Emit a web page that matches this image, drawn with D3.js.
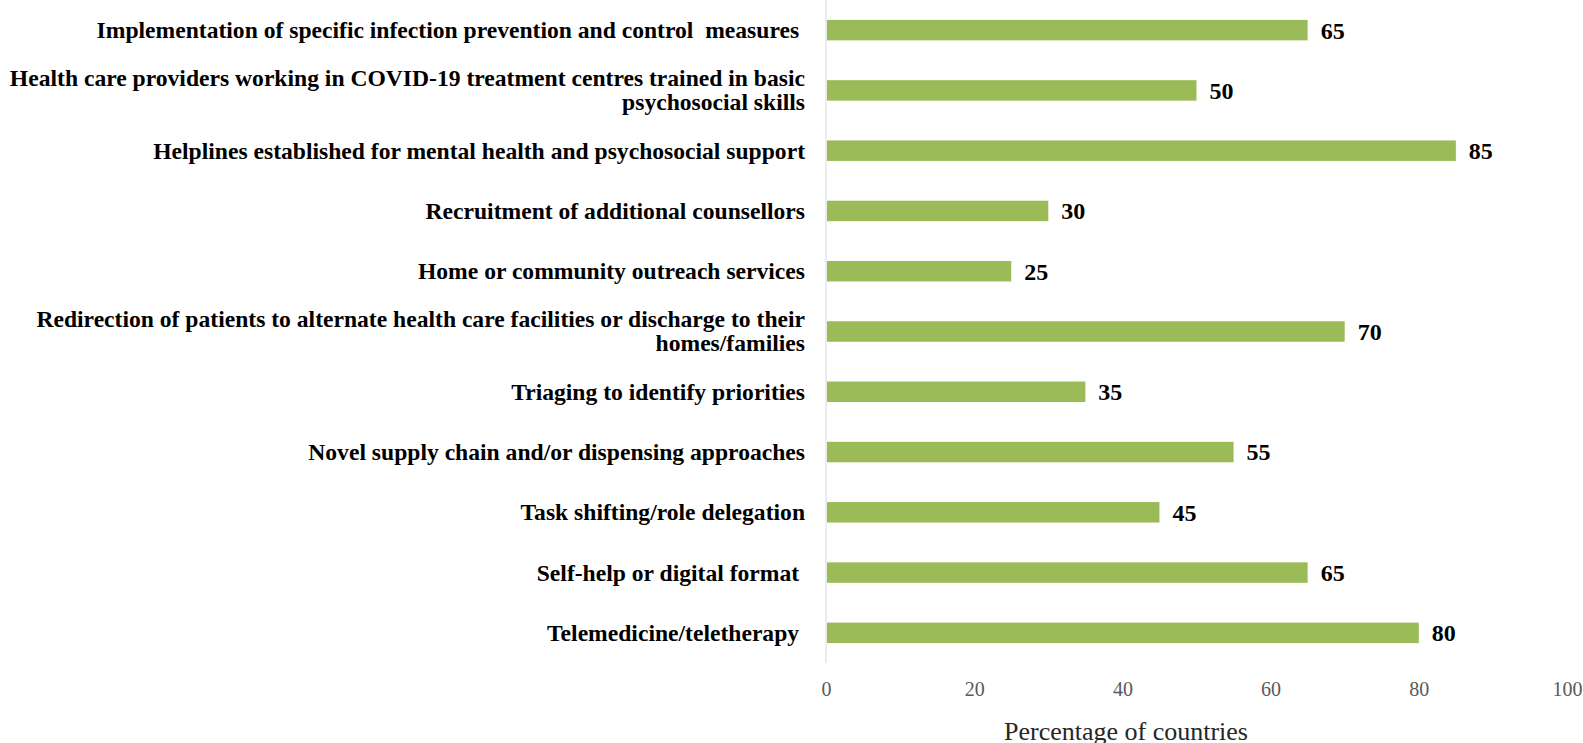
<!DOCTYPE html>
<html lang="en">
<head>
<meta charset="UTF-8">
<script src="https://d3js.org/d3.v7.min.js"></script>
<style>
body {
  margin: 0;
  background: white;
  font-family: "Liberation Serif", "DejaVu Serif", serif;
}
.cat {
  font-weight: bold;
  font-size: 23.6px;
  fill: #000;
  white-space: pre;
}
.val {
  font-weight: bold;
  font-size: 24px;
  fill: #000;
}
.tick text {
  font-family: "Liberation Serif", serif;
  font-size: 20px;
  fill: #595959;
}
.title {
  font-size: 26px;
  fill: #262626;
}
</style>
</head>
<body>
<div id="chart"></div>
<script>
// categories, top to bottom (each entry = lines of the label)
var categories = [
  ["Implementation of specific infection prevention and control  measures "],
  ["Health care providers working in COVID-19 treatment centres trained in basic", "psychosocial skills"],
  ["Helplines established for mental health and psychosocial support"],
  ["Recruitment of additional counsellors"],
  ["Home or community outreach services"],
  ["Redirection of patients to alternate health care facilities or discharge to their", "homes/families"],
  ["Triaging to identify priorities"],
  ["Novel supply chain and/or dispensing approaches"],
  ["Task shifting/role delegation"],
  ["Self-help or digital format "],
  ["Telemedicine/teletherapy "]
];
var values = [65, 50, 85, 30, 25, 70, 35, 55, 45, 65, 80];
var tickValues = [0, 20, 40, 60, 80, 100];
var axisTitle = "Percentage of countries";

var width = 1583, height = 743;
var margin = {top: 0, left: 826, right: 16, bottom: 80};

var svg = d3.select("#chart").append("svg")
    .attr("width", width)
    .attr("height", height);

var x = d3.scaleLinear()
    .domain([0, 100])
    .range([margin.left, width - margin.right]);

var y = d3.scaleBand()
    .domain(d3.range(values.length))
    .range([margin.top, height - margin.bottom])
    .paddingInner(0.66)
    .paddingOuter(0.33);

// vertical axis line
svg.append("line")
    .attr("x1", x(0)).attr("x2", x(0))
    .attr("y1", y.range()[0]).attr("y2", y.range()[1])
    .attr("stroke", "#d9d9d9")
    .attr("stroke-width", 1);

// bars
svg.selectAll("rect.bar")
    .data(values)
    .enter().append("rect")
    .attr("class", "bar")
    .attr("x", x(0) + 1)
    .attr("y", function(d, i) { return y(i); })
    .attr("width", function(d) { return x(d) - x(0) - 1; })
    .attr("height", y.bandwidth())
    .attr("fill", "#9bbb59");

// value labels
svg.selectAll("text.val")
    .data(values)
    .enter().append("text")
    .attr("class", "val")
    .attr("x", function(d) { return x(d) + 13; })
    .attr("y", function(d, i) { return y(i) + y.bandwidth() / 2; })
    .attr("dy", "0.35em")
    .text(function(d) { return d; });

// category labels
var lineH = 24;
var cat = svg.selectAll("text.cat")
    .data(categories)
    .enter().append("text")
    .attr("class", "cat")
    .attr("text-anchor", "end")
    .attr("y", function(d, i) { return y(i) + y.bandwidth() / 2; });
cat.selectAll("tspan")
    .data(function(d) { return d.map(function(t, j) { return {t: t, j: j, n: d.length}; }); })
    .enter().append("tspan")
    .attr("x", 805)
    .attr("dy", function(d) {
      return d.j === 0 ? (0.33 * 24 - (d.n - 1) * lineH / 2) + "px" : lineH + "px";
    })
    .text(function(d) { return d.t; });

// x axis (no line, no ticks)
var xAxis = svg.append("g")
    .attr("transform", "translate(0," + (height - margin.bottom) + ")")
    .call(d3.axisBottom(x).tickValues(tickValues).tickSize(0).tickPadding(19));
xAxis.select(".domain").remove();
xAxis.attr("font-family", null);

// axis title
svg.append("text")
    .attr("class", "title")
    .attr("x", 1126)
    .attr("y", 740)
    .attr("text-anchor", "middle")
    .text(axisTitle);
</script>
</body>
</html>
